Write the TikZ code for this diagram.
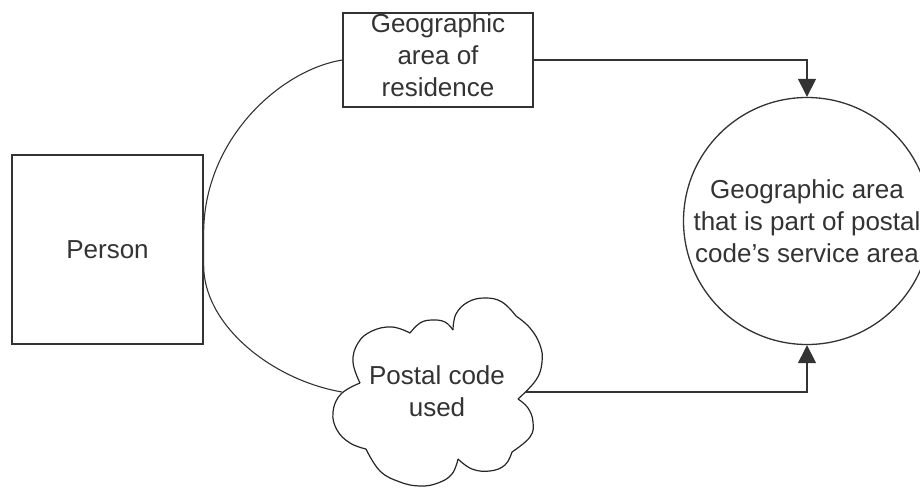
\documentclass[tikz,border=0pt]{standalone}
\usepackage{fontspec}
\setmainfont{Liberation Sans}
\usetikzlibrary{arrows.meta}
\begin{document}
\begin{tikzpicture}[x=1pt,y=-1pt,
  lw/.style={line width=1.3pt, draw=black!80},
  txt/.style={font=\fontsize{26}{32}\selectfont, text=black!80, align=center, inner sep=0pt},
  boxnode/.style={lw, txt, rectangle},
  conn/.style={line width=1.1pt, draw=black!80},
  arr/.style={conn, -{Triangle[length=18pt,width=18pt]}},
  lobe/.style={line width=1.2pt, draw=black!85}]
\clip (0,0) rectangle (920,487);
\fill[white] (0,0) rectangle (920,487);

% nodes
\node[boxnode, minimum width=191pt, minimum height=189pt] (person) at (107.5,249.5) {Person};
\node[boxnode, minimum width=190pt, minimum height=94pt] (geo) at (438,60) {Geographic\\area of\\residence\strut};
\node[lw, txt, circle, minimum size=247pt] (circ) at (807,221) {Geographic area\\that is part of postal\\code's service area};

% cloud outline
\draw[lobe] plot[smooth, tension=0.7] coordinates {(360,383) (353,362) (358,343) (372,331) (392,327) (410,333)};
\draw[lobe] plot[smooth, tension=0.7] coordinates {(410,333) (420,323) (432,320) (445,322) (453,330)};
\draw[lobe] plot[smooth, tension=0.7] coordinates {(453,330) (456,314) (468,302) (485,298) (502,302) (516,316)};
\draw[lobe] plot[smooth, tension=0.7] coordinates {(516,316) (530,328) (540,345) (542,362) (536,380) (518,399)};
\draw[lobe] plot[smooth, tension=0.7] coordinates {(518,399) (528,408) (533,422) (530,437) (512,452)};
\draw[lobe] plot[smooth, tension=0.7] coordinates {(512,452) (505,465) (490,471) (472,469) (458,459)};
\draw[lobe] plot[smooth, tension=0.7] coordinates {(458,459) (452,474) (438,483) (420,486) (400,482) (380,471) (366,449)};
\draw[lobe] plot[smooth, tension=0.7] coordinates {(366,449) (350,443) (337,430) (333,412) (341,394) (360,383)};
\node[txt] (cloud) at (437,391) {Postal code\\used};
\coordinate (cloudW) at (342,392);
\coordinate (cloudE) at (526,392);

% connectors
\draw[conn] (geo.west) .. controls (280,70) and (203,140) .. ([yshift=15pt]person.east)
  -- ([yshift=-15pt]person.east)
  .. controls (203,325) and (272,380) .. (cloudW);
\draw[arr] (geo.east) -| (circ.north);
\draw[arr] (cloudE) -| (circ.south);
\end{tikzpicture}
\end{document}
